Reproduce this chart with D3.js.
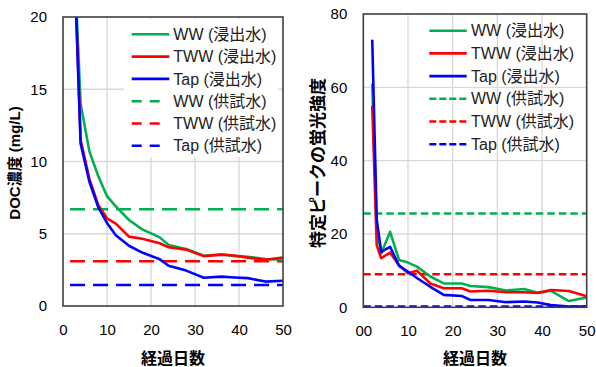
<!DOCTYPE html>
<html><head><meta charset="utf-8">
<script src="https://cdn.jsdelivr.net/npm/d3@7"></script>
<style>
html,body{margin:0;padding:0;background:#fff;}
svg{display:block;font-family:"Liberation Sans","Noto Sans CJK JP",sans-serif;}
</style></head>
<body><svg id="c" width="596" height="367"></svg>
<script>
// ---- data ----
const days = [2,3,4,6,8,10,12,15,18,22,24,28,32,36,39,42,46,50];
// left chart: DOC concentration (mg/L), leachate
const docWW  = [30,21,14.0,10.7,9.0,7.6,6.9,5.95,5.3,4.75,4.22,3.95,3.48,3.58,3.45,3.4,3.25,3.2];
const docTWW = [30,20.2,11.5,8.8,7.0,6.07,5.7,4.8,4.65,4.34,4.06,3.9,3.45,3.55,3.5,3.35,3.2,3.35];
const docTap = [30,20.2,11.25,8.6,6.85,5.75,4.9,4.17,3.7,3.23,2.79,2.45,1.96,2.03,1.97,1.93,1.69,1.75];
// left chart: test water (constant)
const docFeedWW = 6.7, docFeedTWW = 3.1, docFeedTap = 1.45;
const docFeedDays = [1.6, 50];
// right chart: fluorescence intensity of specific peak, leachate
const flWW  = [61,22,14.7,20.6,12.9,12.2,11.1,8.4,6.5,6.5,5.8,5.5,4.6,5.0,4.0,4.5,1.7,2.7];
const flTWW = [55,17,13.4,14.9,11.5,9.3,10.0,6.5,5.2,5.2,4.3,4.5,4.1,4.1,3.9,4.7,4.45,3.0];
const flTap = [73,24,15.1,16.5,11.3,9.7,8.0,5.6,3.4,3.1,2.0,2.0,1.4,1.6,1.3,0.6,0.2,0.2];
const flFeedWW = 25.6, flFeedTWW = 9.0, flFeedTap = 0.2;
const flFeedDays = [0, 50];
// ticks & labels
const xTicks = [0,10,20,30,40,50];
const xTickLabelsLeft = ["0","10","20","30","40","50"];
const xTickLabelsRight = ["00","10","20","30","40","50"];
const yTicksLeft = [0,5,10,15,20];
const yTicksRight = [0,20,40,60,80];
const seriesNames = ["WW (浸出水)","TWW (浸出水)","Tap (浸出水)","WW (供試水)","TWW (供試水)","Tap (供試水)"];
const colors = ["#00b050","#ff0000","#0000ff"];
const xTitle = "経過日数";
const yTitleLeft = "DOC濃度 (mg/L)";
const yTitleRight = "特定ピークの蛍光強度";

const svg = d3.select("#c");

function panel(o){
  const g = svg.append("g");
  const x = d3.scaleLinear().domain([0,50]).range([o.x0,o.x1]);
  const y = d3.scaleLinear().domain(o.ydom).range([o.y0,o.y1]);
  const clipId = "clip"+o.id;
  svg.append("clipPath").attr("id",clipId).append("rect")
    .attr("x",o.x0).attr("y",o.y1).attr("width",o.x1-o.x0).attr("height",o.y0-o.y1);
  // grid
  g.selectAll(".vg").data(xTicks.slice(1,-1)).join("line")
    .attr("x1",d=>x(d)).attr("x2",d=>x(d)).attr("y1",o.y0).attr("y2",o.y1)
    .attr("stroke","#d9d9d9").attr("stroke-width",1.3);
  g.selectAll(".hg").data(o.yticks.slice(1,-1)).join("line")
    .attr("x1",o.x0).attr("x2",o.x1).attr("y1",d=>y(d)).attr("y2",d=>y(d))
    .attr("stroke","#d9d9d9").attr("stroke-width",1.3);
  // axes (labels only)
  const ax = g.append("g").attr("transform",`translate(0,${o.y0})`)
    .call(d3.axisBottom(x).tickValues(xTicks).tickSize(0).tickPadding(18)
      .tickFormat((d,i)=>o.xlabels[i]));
  const ay = g.append("g").attr("transform",`translate(${o.x0},0)`)
    .call(d3.axisLeft(y).tickValues(o.yticks).tickSize(0).tickPadding(16));
  [ax,ay].forEach(a=>{a.select(".domain").remove();
    a.selectAll("text").attr("font-size",15).attr("fill","#000")
     .attr("font-family","Liberation Sans, sans-serif");});
  // legend background
  if(o.legendBox){
    g.append("rect").attr("x",o.legendBox[0]).attr("y",o.legendBox[1])
      .attr("width",o.legendBox[2]).attr("height",o.legendBox[3]).attr("fill","#fff");
  }
  const line = d3.line().x((d,i)=>x(days[i])).y(d=>y(d));
  const pg = g.append("g").attr("clip-path",`url(#${clipId})`);
  // feed water dashed lines
  o.feed.forEach((v,k)=>{
    pg.append("line").attr("x1",x(o.feedDays[0])).attr("x2",x(o.feedDays[1]))
      .attr("y1",y(v)).attr("y2",y(v)).attr("stroke",colors[k]).attr("stroke-width",2.6)
      .attr("stroke-dasharray",o.dash);
  });
  o.series.forEach((s,k)=>{
    pg.append("path").attr("d",line(s)).attr("fill","none").attr("stroke",colors[k])
      .attr("stroke-width",2.6).attr("stroke-linejoin","round");
  });
  // frame
  g.append("rect").attr("x",o.x0).attr("y",o.y1).attr("width",o.x1-o.x0).attr("height",o.y0-o.y1)
    .attr("fill","none").attr("stroke","#404040").attr("stroke-width",1.6);
  // legend
  seriesNames.forEach((n,k)=>{
    const yy = o.leg.y + k*o.leg.dy;
    const dashed = k>=3;
    g.append("line").attr("x1",o.leg.x).attr("x2",o.leg.x + (dashed?o.leg.dlen:o.leg.len))
      .attr("y1",yy).attr("y2",yy).attr("stroke",colors[k%3]).attr("stroke-width",2.6)
      .attr("stroke-dasharray",dashed?o.leg.dash:null);
    g.append("text").attr("x",o.leg.tx).attr("y",yy).attr("dy","0.35em")
      .attr("font-size",16).attr("fill","#222").text(n);
  });
  // titles
  g.append("text").attr("x",(o.x0+o.x1)/2).attr("y",358).attr("dy","0.36em")
    .attr("text-anchor","middle").attr("font-size",16).attr("font-weight","bold").text(xTitle);
  g.append("text").attr("transform",`translate(${o.ytx},163) rotate(-90)`).attr("dy","0.36em")
    .attr("text-anchor","middle").attr("font-size",o.ytfs).attr("font-weight","bold").text(o.ytitle);
}

panel({id:"L", x0:63, x1:283, y0:306, y1:17, ydom:[0,20], yticks:yTicksLeft,
  xlabels:xTickLabelsLeft, series:[docWW,docTWW,docTap], feed:[docFeedWW,docFeedTWW,docFeedTap],
  feedDays:docFeedDays, dash:"15,8", legendBox:[124,19,154,138],
  leg:{x:131.7,len:37.6,dlen:28,dash:"10,8",tx:173.3,y:34.3,dy:22.3},
  ytx:15, ytitle:yTitleLeft, ytfs:15});
panel({id:"R", x0:363.3, x1:586.7, y0:307.3, y1:14, ydom:[0,80], yticks:yTicksRight,
  xlabels:xTickLabelsRight, series:[flWW,flTWW,flTap], feed:[flFeedWW,flFeedTWW,flFeedTap],
  feedDays:flFeedDays, dash:"7.5,4", legendBox:null,
  leg:{x:429.3,len:37.4,dlen:37.4,dash:"7,3",tx:471,y:30.7,dy:22.7},
  ytx:317.5, ytitle:yTitleRight, ytfs:17});
</script></body></html>
